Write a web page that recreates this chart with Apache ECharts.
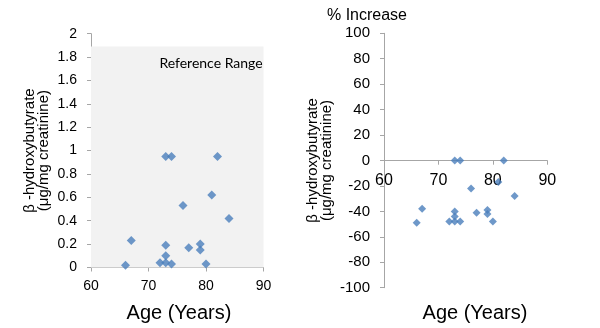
<!DOCTYPE html>
<html><head><meta charset="utf-8">
<script src="https://cdn.jsdelivr.net/npm/echarts@6/dist/echarts.min.js"></script>
<style>html,body{margin:0;padding:0;background:#fff}#c{width:600px;height:328px}</style>
</head><body><div id="c"></div>
<script>
// Left panel: absolute values
const leftAges   = [66, 67, 72, 73, 74, 73, 73, 76, 77, 79, 79, 80, 84, 73, 74, 82, 81];
const leftValues = [0.02, 0.23, 0.04, 0.04, 0.03, 0.10, 0.19, 0.53, 0.17, 0.20, 0.15, 0.03, 0.42, 0.95, 0.95, 0.95, 0.62];
// Right panel: % increase
const rightAges   = [73, 74, 82, 81, 76, 84, 67, 73, 77, 79, 79, 73, 72, 73, 74, 66, 80];
const rightValues = [0, 0, 0, -17, -22, -28, -38, -40, -41, -39, -42, -44, -48, -48, -48, -49, -48];
// Reference range (shaded)
const refRange = [0, 1.89];
const refAgeRange = [60, 90.8];
const xTicks = [60, 70, 80, 90];
const leftYTicks = [0, 0.2, 0.4, 0.6, 0.8, 1, 1.2, 1.4, 1.6, 1.8, 2];
const rightYTicks = [-100, -80, -60, -40, -20, 0, 20, 40, 60, 80, 100];

const FONT = 'Liberation Sans';
const AX = '#a6a6a6';
const MARK = '#4a7ebb';
const yName = 'β -hydroxybutyrate\n(μg/mg creatinine)';

const chart = echarts.init(document.getElementById('c'), null, {renderer: 'canvas'});
const axisCommon = {
  axisLine: {show: true, lineStyle: {color: AX, width: 1}},
  axisTick: {show: true, length: 4, lineStyle: {color: AX}},
  splitLine: {show: false},
};
const gridR = {left: 384, top: 33.3, width: 163.3, height: 254.4};
chart.setOption({
  animation: false,
  backgroundColor: '#fff',
  textStyle: {fontFamily: FONT},
  title: [
    {text: 'Age (Years)', left: 174, top: 298, textAlign: 'center',
     textStyle: {fontFamily: FONT, fontSize: 20, fontWeight: 'normal', color: '#000'}},
    {text: 'Age (Years)', left: 470, top: 298, textAlign: 'center',
     textStyle: {fontFamily: FONT, fontSize: 20, fontWeight: 'normal', color: '#000'}},
    {text: '% Increase', left: 362, top: 3, textAlign: 'center',
     textStyle: {fontFamily: FONT, fontSize: 16, fontWeight: 'normal', color: '#000'}},
    {text: 'Reference Range', left: 206, top: 51, textAlign: 'center',
     textStyle: {fontFamily: 'Lato', fontSize: 14, fontWeight: 'normal', color: '#000'}}
  ],
  grid: [
    {left: 91, top: 33.7, width: 172.5, height: 233.8},
    gridR
  ],
  xAxis: [
    Object.assign({}, axisCommon, {gridIndex: 0, type: 'value', min: xTicks[0], max: xTicks[xTicks.length-1], interval: 10,
      axisLabel: {margin: 12, fontSize: 14, color: '#000', fontFamily: FONT}}),
    Object.assign({}, axisCommon, {gridIndex: 1, type: 'value', min: xTicks[0], max: xTicks[xTicks.length-1], interval: 10,
      position: 'bottom', offset: -127,
      axisLine: {show: true, onZero: false, lineStyle: {color: AX}},
      axisLabel: {margin: 12, fontSize: 16, color: '#000', fontFamily: FONT}})
  ],
  yAxis: [
    Object.assign({}, axisCommon, {gridIndex: 0, type: 'value', min: leftYTicks[0], max: leftYTicks[leftYTicks.length-1], interval: 0.2,
      name: yName, nameLocation: 'middle', nameRotate: 90, nameGap: 40,
      nameTextStyle: {fontFamily: FONT, fontSize: 15, color: '#000', lineHeight: 14},
      axisLabel: {margin: 14, fontSize: 14, color: '#000', fontFamily: FONT}}),
    Object.assign({}, axisCommon, {gridIndex: 1, type: 'value', min: rightYTicks[0], max: rightYTicks[rightYTicks.length-1], interval: 20,
      name: yName, nameLocation: 'middle', nameRotate: 90, nameGap: 50,
      nameTextStyle: {fontFamily: FONT, fontSize: 15, color: '#000', lineHeight: 14},
      axisLabel: {margin: 14, fontSize: 15, color: '#000', fontFamily: FONT}})
  ],
  series: [
    {type: 'scatter', xAxisIndex: 0, yAxisIndex: 0, clip: false,
     symbol: 'diamond', symbolSize: 9, itemStyle: {color: MARK},
     data: leftAges.map((a, i) => [a, leftValues[i]]),
     z: 3,
     markArea: {silent: true, itemStyle: {color: '#f2f2f2'}, label: {show: false},
       data: [[{coord: [refAgeRange[0], refRange[0]]}, {coord: [refAgeRange[1], refRange[1]]}]]}
    },
    {type: 'scatter', xAxisIndex: 1, yAxisIndex: 1,
     symbol: 'diamond', symbolSize: 8, itemStyle: {color: MARK},
     data: rightAges.map((a, i) => [a, rightValues[i]])}
  ]
});
</script></body></html>
